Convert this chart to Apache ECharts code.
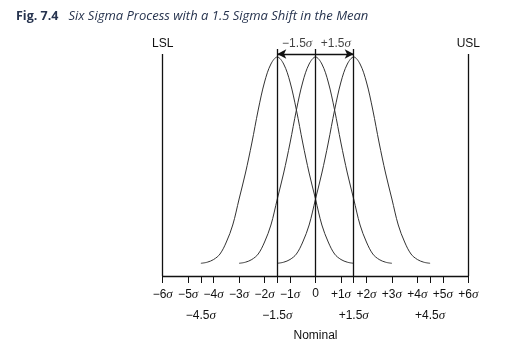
<!DOCTYPE html>
<html>
<head>
<meta charset="utf-8">
<script src="https://cdn.jsdelivr.net/npm/echarts@6/dist/echarts.min.js"></script>
<style>
  html, body { margin: 0; padding: 0; background: #fff; }
  #chart { width: 512px; height: 353px; }
</style>
</head>
<body>
<div id="chart"></div>
<script>
// curve profile: height above the axis at each sigma offset from the mean
const sigmaOffsets = [-3, -2.75, -2.5, -2.25, -2, -1.75, -1.5, -1.25, -1, -0.75, -0.5, -0.25, 0,
  0.25, 0.5, 0.75, 1, 1.25, 1.5, 1.75, 2, 2.25, 2.5, 2.75, 3];
const curveHeights = [12.7, 13.8, 16.5, 22, 34, 51, 77, 103, 133, 166, 194, 212, 219,
  212, 194, 166, 133, 103, 77, 51, 34, 22, 16.5, 13.8, 12.7];
const processMeans = [-1.5, 0, 1.5];
const meanLineTop = 227;

const specLimits = [-6, 6];
const specLabels = ['LSL', 'USL'];
const specLineTop = 222;

const shiftArrow = [-1.5, 1.5];
const shiftArrowLevel = 222;
const shiftLabels = ['−1.5', '+1.5'];
const shiftLabelX = [-0.72, 0.8];
const shiftLabelLevel = 232;

const tickValues = [-6, -5, -4.5, -4, -3, -2, -1.5, -1, 0, 1, 1.5, 2, 3, 4, 4.5, 5, 6];
const sigmaLabels = [-6, -5, -4, -3, -2, -1, 0, 1, 2, 3, 4, 5, 6];
const shiftTickLabels = [-4.5, -1.5, 1.5, 4.5];

const titleLead = 'Fig. 7.4';
const titleText = 'Six Sigma Process with a 1.5 Sigma Shift in the Mean';
const axisName = 'Nominal';

const sigmaRich = {
  n: { fontFamily: 'Liberation Sans', fontSize: 12, color: '#111' },
  s: { fontFamily: 'Liberation Serif', fontStyle: 'italic', fontSize: 13, color: '#111' },
};

function sigmaText(v) {
  if (v === 0) {
    return '{n|0}';
  }
  const sign = v > 0 ? '+' : '−';
  const num = Math.abs(v);
  return '{n|' + sign + num + '}{s|σ}';
}

const curveSeries = processMeans.map((mean) => ({
  type: 'line',
  smooth: 0.35,
  showSymbol: false,
  silent: true,
  lineStyle: { color: '#333', width: 1 },
  data: sigmaOffsets.map((o, i) => [mean + o, curveHeights[i]]),
}));

const lineSeries = {
  type: 'line',
  data: [],
  silent: true,
  markLine: {
    silent: true,
    symbol: 'none',
    animation: false,
    lineStyle: { color: '#111', width: 1.3, type: 'solid' },
    label: { show: false },
    data: [
      ...processMeans.map((m) => [{ coord: [m, 0] }, { coord: [m, meanLineTop] }]),
      ...specLimits.map((s, i) => [
        { coord: [s, 0] },
        {
          coord: [s, specLineTop],
          label: {
            show: true,
            position: 'end',
            formatter: specLabels[i],
            distance: 4,
            fontFamily: 'Liberation Sans',
            fontSize: 12,
            color: '#111',
          },
        },
      ]),
    ],
  },
};

const arrowSeries = {
  type: 'line',
  data: [],
  silent: true,
  markLine: {
    silent: true,
    animation: false,
    symbol: ['arrow', 'arrow'],
    symbolSize: [7, 9],
    lineStyle: { color: '#111', width: 1.3, type: 'solid' },
    label: { show: false },
    data: [[{ coord: [shiftArrow[0], shiftArrowLevel] }, { coord: [shiftArrow[1], shiftArrowLevel] }]],
  },
};

const shiftLabelSeries = {
  type: 'scatter',
  symbolSize: 0,
  silent: true,
  z: 5,
  data: shiftLabels.map((t, i) => ({
    value: [shiftLabelX[i], shiftLabelLevel],
    label: {
      show: true,
      position: 'inside',
      formatter: '{n|' + t + '}{s|σ}',
      rich: sigmaRich,
    },
  })),
};

const chart = echarts.init(document.getElementById('chart'));
chart.setOption({
  animation: false,
  backgroundColor: '#fff',
  title: {
    left: 11,
    top: 2,
    text: '{b|' + titleLead + '}  {i|' + titleText + '}',
    textStyle: {
      fontWeight: 'normal',
      rich: {
        b: { fontFamily: 'Open Sans', fontWeight: 'bold', fontSize: 12.5, color: '#27344f' },
        i: { fontFamily: 'Open Sans', fontStyle: 'italic', fontWeight: 'normal', fontSize: 13, color: '#27344f' },
      },
    },
  },
  grid: { left: 162.7, right: 43.7, top: 36, bottom: 77 },
  xAxis: [
    {
      type: 'value',
      min: -6,
      max: 6,
      interval: 1,
      splitLine: { show: false },
      axisLine: { show: true, onZero: false, lineStyle: { color: '#111', width: 1.3 } },
      axisTick: {
        show: true,
        length: 7,
        customValues: tickValues,
        lineStyle: { color: '#111', width: 1 },
      },
      axisLabel: {
        customValues: sigmaLabels,
        margin: 12,
        formatter: (v) => sigmaText(v),
        rich: sigmaRich,
      },
    },
    {
      type: 'value',
      position: 'bottom',
      offset: 21,
      min: -6,
      max: 6,
      interval: 1,
      splitLine: { show: false },
      axisLine: { show: false },
      axisTick: { show: false },
      axisLabel: {
        customValues: shiftTickLabels,
        margin: 12,
        formatter: (v) => sigmaText(v),
        rich: sigmaRich,
      },
      name: axisName,
      nameLocation: 'middle',
      nameGap: 33,
      nameTextStyle: { fontFamily: 'Liberation Sans', fontSize: 12, color: '#111' },
    },
  ],
  yAxis: {
    type: 'value',
    min: 0,
    max: 240,
    show: false,
  },
  series: [...curveSeries, lineSeries, arrowSeries, shiftLabelSeries],
});
</script>
</body>
</html>
